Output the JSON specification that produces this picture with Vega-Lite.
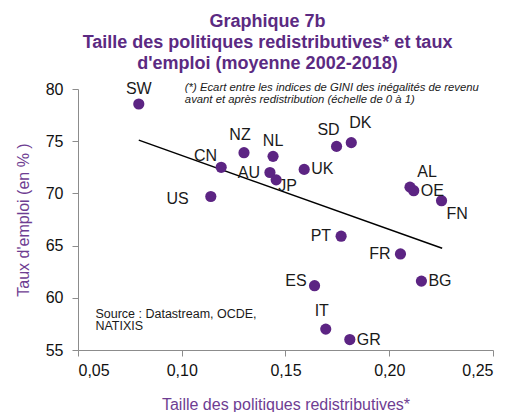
{
  "$schema": "https://vega.github.io/schema/vega-lite/v6.json",
  "width": 415,
  "height": 261,
  "autosize": {"type": "none"},
  "padding": {"left": 78, "top": 89, "right": 22, "bottom": 62},
  "background": "white",
  "title": {
    "text": ["Graphique 7b", "Taille des politiques redistributives* et taux", "d'emploi (moyenne 2002-2018)"],
    "font": "Liberation Sans",
    "fontSize": 18,
    "fontWeight": "bold",
    "color": "#5b2a82",
    "lineHeight": 21,
    "anchor": "middle",
    "dx": -18,
    "offset": 8
  },
  "config": {
    "view": {"stroke": null},
    "font": "Liberation Sans",
    "axis": {
      "grid": false,
      "domainColor": "#8c8c8c",
      "tickColor": "#8c8c8c",
      "tickSize": 6,
      "labelFont": "Liberation Sans",
      "labelFontSize": 16,
      "labelColor": "#111111",
      "titleFont": "Liberation Sans",
      "titleFontSize": 16,
      "titleFontWeight": "normal",
      "titleColor": "#6e3d92"
    },
    "text": {"font": "Liberation Sans", "fontSize": 16, "color": "#1a1a1a", "baseline": "middle"}
  },
  "data": {
    "values": [
      {"pays": "SW", "redis": 0.0793, "emploi": 78.56},
      {"pays": "CN", "redis": 0.119, "emploi": 72.5},
      {"pays": "NZ", "redis": 0.130, "emploi": 73.9},
      {"pays": "NL", "redis": 0.144, "emploi": 73.55},
      {"pays": "AU", "redis": 0.1425, "emploi": 72.0},
      {"pays": "JP", "redis": 0.1455, "emploi": 71.3},
      {"pays": "US", "redis": 0.114, "emploi": 69.7},
      {"pays": "UK", "redis": 0.159, "emploi": 72.3},
      {"pays": "SD", "redis": 0.1746, "emploi": 74.5},
      {"pays": "DK", "redis": 0.1817, "emploi": 74.86},
      {"pays": "AL", "redis": 0.210, "emploi": 70.6},
      {"pays": "OE", "redis": 0.2118, "emploi": 70.26},
      {"pays": "FN", "redis": 0.2252, "emploi": 69.3},
      {"pays": "PT", "redis": 0.1768, "emploi": 65.9},
      {"pays": "FR", "redis": 0.2054, "emploi": 64.2},
      {"pays": "ES", "redis": 0.164, "emploi": 61.16},
      {"pays": "BG", "redis": 0.2155, "emploi": 61.6},
      {"pays": "IT", "redis": 0.1694, "emploi": 57.0},
      {"pays": "GR", "redis": 0.181, "emploi": 56.0}
    ]
  },
  "layer": [
    {
      "data": {"values": [{"redis": 0.0793, "emploi": 75.1}, {"redis": 0.2255, "emploi": 64.74}]},
      "mark": {"type": "line", "color": "#000000", "strokeWidth": 1.5},
      "encoding": {
        "x": {"field": "redis", "type": "quantitative", "scale": {"domain": [0.05, 0.25], "nice": false, "zero": false},
          "axis": {"values": [0.05, 0.1, 0.15, 0.2, 0.25], "labelExpr": "replace(format(datum.value, '.2f'), '.', ',')", "title": "Taille des politiques redistributives*", "labelPadding": 6, "titlePadding": 18}},
        "y": {"field": "emploi", "type": "quantitative", "scale": {"domain": [55, 80], "nice": false, "zero": false},
          "axis": {"values": [55, 60, 65, 70, 75, 80], "title": "Taux d'emploi (en % )", "labelPadding": 9, "titlePadding": 14}}
      }
    },
    {
      "mark": {"type": "circle", "color": "#5c2483", "opacity": 1, "size": 125},
      "encoding": {"x": {"field": "redis", "type": "quantitative"}, "y": {"field": "emploi", "type": "quantitative"}}
    },
    {
      "transform": [{"filter": {"field": "pays", "oneOf": ["SW", "NL"]}}],
      "mark": {"type": "text", "dy": -15, "align": "center"},
      "encoding": {"x": {"field": "redis", "type": "quantitative"}, "y": {"field": "emploi", "type": "quantitative"}, "text": {"field": "pays"}}
    },
    {
      "transform": [{"filter": {"field": "pays", "oneOf": ["NZ", "IT"]}}],
      "mark": {"type": "text", "dx": -4, "dy": -18, "align": "center"},
      "encoding": {"x": {"field": "redis", "type": "quantitative"}, "y": {"field": "emploi", "type": "quantitative"}, "text": {"field": "pays"}}
    },
    {
      "transform": [{"filter": {"field": "pays", "equal": "SD"}}],
      "mark": {"type": "text", "dx": -8, "dy": -16, "align": "center"},
      "encoding": {"x": {"field": "redis", "type": "quantitative"}, "y": {"field": "emploi", "type": "quantitative"}, "text": {"field": "pays"}}
    },
    {
      "transform": [{"filter": {"field": "pays", "equal": "DK"}}],
      "mark": {"type": "text", "dx": 9, "dy": -20, "align": "center"},
      "encoding": {"x": {"field": "redis", "type": "quantitative"}, "y": {"field": "emploi", "type": "quantitative"}, "text": {"field": "pays"}}
    },
    {
      "transform": [{"filter": {"field": "pays", "equal": "AL"}}],
      "mark": {"type": "text", "dx": 17, "dy": -15, "align": "center"},
      "encoding": {"x": {"field": "redis", "type": "quantitative"}, "y": {"field": "emploi", "type": "quantitative"}, "text": {"field": "pays"}}
    },
    {
      "transform": [{"filter": {"field": "pays", "equal": "CN"}}],
      "mark": {"type": "text", "dx": -4, "dy": -11, "align": "right"},
      "encoding": {"x": {"field": "redis", "type": "quantitative"}, "y": {"field": "emploi", "type": "quantitative"}, "text": {"field": "pays"}}
    },
    {
      "transform": [{"filter": {"field": "pays", "oneOf": ["AU", "PT", "FR"]}}],
      "mark": {"type": "text", "dx": -10, "align": "right"},
      "encoding": {"x": {"field": "redis", "type": "quantitative"}, "y": {"field": "emploi", "type": "quantitative"}, "text": {"field": "pays"}}
    },
    {
      "transform": [{"filter": {"field": "pays", "equal": "ES"}}],
      "mark": {"type": "text", "dx": -8, "dy": -5, "align": "right"},
      "encoding": {"x": {"field": "redis", "type": "quantitative"}, "y": {"field": "emploi", "type": "quantitative"}, "text": {"field": "pays"}}
    },
    {
      "transform": [{"filter": {"field": "pays", "equal": "US"}}],
      "mark": {"type": "text", "dx": -22, "dy": 2, "align": "right"},
      "encoding": {"x": {"field": "redis", "type": "quantitative"}, "y": {"field": "emploi", "type": "quantitative"}, "text": {"field": "pays"}}
    },
    {
      "transform": [{"filter": {"field": "pays", "oneOf": ["UK", "OE", "BG", "GR"]}}],
      "mark": {"type": "text", "dx": 7, "align": "left"},
      "encoding": {"x": {"field": "redis", "type": "quantitative"}, "y": {"field": "emploi", "type": "quantitative"}, "text": {"field": "pays"}}
    },
    {
      "transform": [{"filter": {"field": "pays", "equal": "JP"}}],
      "mark": {"type": "text", "dx": 2, "dy": 6, "align": "left"},
      "encoding": {"x": {"field": "redis", "type": "quantitative"}, "y": {"field": "emploi", "type": "quantitative"}, "text": {"field": "pays"}}
    },
    {
      "transform": [{"filter": {"field": "pays", "equal": "FN"}}],
      "mark": {"type": "text", "dx": 5, "dy": 13, "align": "left"},
      "encoding": {"x": {"field": "redis", "type": "quantitative"}, "y": {"field": "emploi", "type": "quantitative"}, "text": {"field": "pays"}}
    },
    {
      "data": {"values": [{"note": "x"}]},
      "mark": {"type": "text", "fontSize": 11.3, "fontStyle": "italic", "color": "#1a1a1a", "align": "left", "baseline": "middle", "lineHeight": 12.5},
      "encoding": {
        "x": {"datum": 0.1015, "type": "quantitative"},
        "y": {"datum": 80.1, "type": "quantitative"},
        "text": {"value": ["(*) Ecart entre les indices de GINI des inégalités de revenu", "avant et après redistribution (échelle de 0 à 1)"]}
      }
    },
    {
      "data": {"values": [{"src": "x"}]},
      "mark": {"type": "text", "fontSize": 12.5, "color": "#1a1a1a", "align": "left", "baseline": "middle", "lineHeight": 12.5},
      "encoding": {
        "x": {"datum": 0.0584, "type": "quantitative"},
        "y": {"datum": 58.45, "type": "quantitative"},
        "text": {"value": ["Source : Datastream,  OCDE,", "NATIXIS"]}
      }
    }
  ]
}
